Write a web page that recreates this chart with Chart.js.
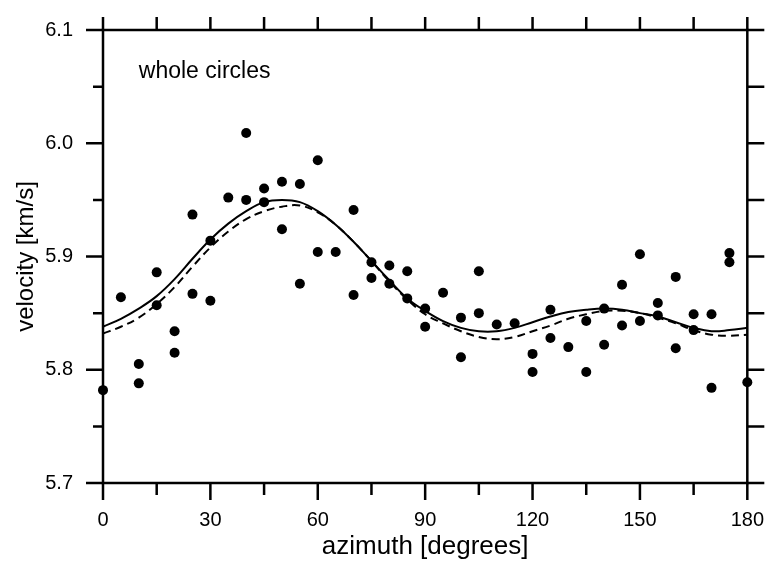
<!DOCTYPE html>
<html>
<head>
<meta charset="utf-8">
<script src="https://cdn.jsdelivr.net/npm/chart.js@4/dist/chart.umd.min.js"></script>
<style>
  html, body { margin: 0; padding: 0; background: #fff; }
</style>
</head>
<body>
<canvas id="c" width="772" height="565"></canvas>
<script>
// Measured velocities (one dot per measurement)
const pointAzimuth = [
  0, 5, 10, 10, 15, 15, 20, 20, 25, 25, 30, 30, 35, 40, 40, 45, 45, 50, 50,
  55, 55, 60, 60, 65, 70, 70, 75, 75, 80, 80, 85, 85, 90, 90, 95, 100, 100,
  105, 105, 110, 115, 120, 120, 125, 125, 130, 135, 135, 140, 140, 145, 145,
  150, 150, 155, 155, 160, 160, 165, 165, 170, 170, 175, 175, 180
];
const pointVelocity = [
  5.782, 5.864, 5.805, 5.788, 5.886, 5.857, 5.834, 5.815, 5.937, 5.867, 5.914, 5.861, 5.952, 6.009, 5.950, 5.960, 5.948, 5.966, 5.924,
  5.964, 5.876, 5.985, 5.904, 5.904, 5.941, 5.866, 5.895, 5.881, 5.892, 5.876, 5.887, 5.863, 5.854, 5.838, 5.868, 5.846, 5.811,
  5.887, 5.850, 5.840, 5.841, 5.814, 5.798, 5.853, 5.828, 5.820, 5.843, 5.798, 5.854, 5.822, 5.875, 5.839,
  5.902, 5.843, 5.859, 5.848, 5.882, 5.819, 5.849, 5.835, 5.849, 5.784, 5.903, 5.895, 5.789
];

// Fitted curves, sampled every 5 degrees
const curveAzimuth = [
  0, 5, 10, 15, 20, 25, 30, 35, 40, 45, 50, 55, 60, 65, 70, 75, 80, 85, 90,
  95, 100, 105, 110, 115, 120, 125, 130, 135, 140, 145, 150, 155, 160, 165, 170, 175, 180
];
const solidFit = [
  5.838, 5.845, 5.854, 5.865, 5.880, 5.898, 5.915, 5.929, 5.940, 5.948, 5.950, 5.948, 5.940, 5.928, 5.913, 5.896, 5.879, 5.863, 5.852,
  5.843, 5.837, 5.834, 5.834, 5.837, 5.842, 5.847, 5.851, 5.853, 5.854, 5.853, 5.850, 5.847, 5.842, 5.837, 5.834, 5.835, 5.837
];
const dashedFit = [
  5.832, 5.838, 5.846, 5.858, 5.873, 5.891, 5.908, 5.922, 5.933, 5.940, 5.944, 5.945, 5.939, 5.928, 5.913, 5.896, 5.878, 5.862, 5.849,
  5.841, 5.834, 5.829, 5.827, 5.829, 5.834, 5.839, 5.845, 5.849, 5.852, 5.852, 5.850, 5.846, 5.841, 5.835, 5.831, 5.830, 5.831
];

// Axis tick labels (major ticks); minor ticks fall halfway between
const xTickLabels = [0, 30, 60, 90, 120, 150, 180];
const yTickLabels = ['5.7', '5.8', '5.9', '6.0', '6.1'];

const annotationText = 'whole circles';
const annotationAt = { x: 10, y: 6.0576 };

const INK = '#000';
const FONT = '"Liberation Sans", Arial, Helvetica, sans-serif';

const toXY = (xs, ys) => xs.map((x, i) => ({ x, y: ys[i] }));

function isMajorX(v) { return xTickLabels.includes(Math.round(v)); }
function isMajorY(v) {
  return Math.abs(Math.round(v * 10) - v * 10) < 1e-6 &&
         yTickLabels.includes((Math.round(v * 10) / 10).toFixed(1));
}

// Box frame with outward tick marks on all four sides, plus the text note
const framePlugin = {
  id: 'frame',
  beforeDatasetsDraw(chart) {
    const { ctx, chartArea: a, scales: { x, y } } = chart;
    ctx.save();
    ctx.strokeStyle = INK;
    ctx.lineWidth = 2.5;
    ctx.lineCap = 'butt';
    ctx.beginPath();
    ctx.rect(a.left, a.top, a.right - a.left, a.bottom - a.top);
    ctx.stroke();

    ctx.beginPath();
    x.ticks.forEach(t => {
      const px = x.getPixelForValue(t.value);
      const major = isMajorX(t.value);
      ctx.moveTo(px, a.bottom);
      ctx.lineTo(px, a.bottom + (major ? 17 : 12));
      ctx.moveTo(px, a.top);
      ctx.lineTo(px, a.top - 13);
    });
    y.ticks.forEach(t => {
      const py = y.getPixelForValue(t.value);
      const major = isMajorY(t.value);
      ctx.moveTo(a.left, py);
      ctx.lineTo(a.left - (major ? 17 : 10), py);
      ctx.moveTo(a.right, py);
      ctx.lineTo(a.right + 17, py);
    });
    ctx.stroke();

    ctx.fillStyle = '#000';
    ctx.font = '23px ' + FONT;
    ctx.textAlign = 'left';
    ctx.textBaseline = 'alphabetic';
    ctx.fillText(annotationText, x.getPixelForValue(annotationAt.x), y.getPixelForValue(annotationAt.y));
    ctx.restore();
  }
};

new Chart(document.getElementById('c'), {
  type: 'scatter',
  data: {
    datasets: [
      {
        type: 'scatter',
        data: toXY(pointAzimuth, pointVelocity),
        backgroundColor: INK,
        borderColor: INK,
        pointRadius: 5,
        pointBorderWidth: 0,
        clip: false
      },
      {
        type: 'line',
        data: toXY(curveAzimuth, solidFit),
        borderColor: INK,
        borderWidth: 2,
        pointRadius: 0,
        tension: 0.4,
        fill: false
      },
      {
        type: 'line',
        data: toXY(curveAzimuth, dashedFit),
        borderColor: INK,
        borderWidth: 2,
        borderDash: [8, 5],
        pointRadius: 0,
        tension: 0.4,
        fill: false
      }
    ]
  },
  options: {
    responsive: false,
    animation: false,
    layout: { padding: { top: 30, right: 18, left: 0, bottom: 0 } },
    plugins: { legend: { display: false }, tooltip: { enabled: false } },
    scales: {
      x: {
        type: 'linear',
        min: 0, max: 180,
        afterFit(scale) { scale.height = 82; },
        border: { display: false },
        grid: { drawOnChartArea: false, drawTicks: true, tickLength: 17, color: 'rgba(0,0,0,0)' },
        ticks: {
          stepSize: 15,
          autoSkip: false,
          maxRotation: 0,
          padding: 8,
          color: '#000',
          font: { family: FONT, size: 20 },
          callback: v => isMajorX(v) ? String(Math.round(v)) : ''
        },
        title: {
          display: true,
          text: 'azimuth [degrees]',
          color: '#000',
          font: { family: FONT, size: 26 },
          padding: { top: 0, bottom: 3 }
        }
      },
      y: {
        type: 'linear',
        min: 5.7, max: 6.1,
        afterFit(scale) { scale.width = 103; },
        border: { display: false },
        grid: { drawOnChartArea: false, drawTicks: true, tickLength: 17, color: 'rgba(0,0,0,0)' },
        ticks: {
          stepSize: 0.05,
          autoSkip: false,
          padding: 13,
          color: '#000',
          font: { family: FONT, size: 20 },
          callback: v => isMajorY(v) ? (Math.round(v * 10) / 10).toFixed(1) : ''
        },
        title: {
          display: true,
          text: 'velocity [km/s]',
          color: '#000',
          font: { family: FONT, size: 24 },
          padding: { top: 12, bottom: 0 }
        }
      }
    }
  },
  plugins: [framePlugin]
});
</script>
</body>
</html>
